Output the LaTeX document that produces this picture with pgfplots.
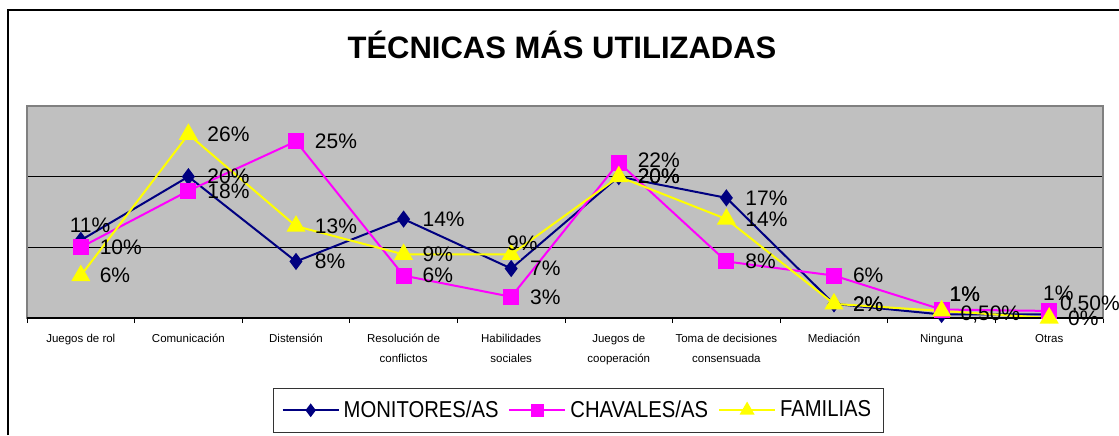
\documentclass[border=0pt]{standalone}
\usepackage{fontspec}
\setmainfont{Liberation Sans}
\usepackage{graphicx}
\usepackage{pgfplots}
\pgfplotsset{compat=1.18}
\definecolor{navyc}{RGB}{0,0,128}
\definecolor{magc}{RGB}{255,0,255}
\definecolor{yelc}{RGB}{255,255,0}
\definecolor{plotgray}{RGB}{192,192,192}
\definecolor{bordgray}{RGB}{128,128,128}
\newcommand{\legtxt}[1]{\scalebox{0.88}[1]{#1}}

\begin{document}
\begin{tikzpicture}
\useasboundingbox (0,0) rectangle (559.5pt,217.5pt);
\draw[black, line width=0.75pt] (4pt,0pt) -- (4pt,212.5pt) -- (559.5pt,212.5pt);
\node[font=\fontsize{15.5}{15.5}\bfseries\selectfont] at (281pt,195pt) {TÉCNICAS MÁS UTILIZADAS};
\begin{axis}[
  at={(13.5pt,58.5pt)}, anchor=south west,
  scale only axis, width=538pt, height=106pt,
  xmin=-0.5, xmax=9.5, ymin=0, ymax=0.3,
  axis background/.style={fill=plotgray},
  axis line style={draw=bordgray, line width=0.75pt},
  ytick={0.1,0.2}, yticklabels={}, ymajorgrids,
  grid style={black, line width=0.4pt},
  ytick style={draw=none},
  xtick={-0.5,0.5,...,9.5},
  x tick label as interval,
  xticklabels={Juegos de rol, Comunicación, Distensión, {Resolución de\\conflictos}, {Habilidades\\sociales}, {Juegos de\\cooperación}, {Toma de decisiones\\consensuada}, Mediación, Ninguna, Otras},
  xtick pos=bottom,
  x tick style={black, line width=0.4pt},
  tick align=outside, major tick length=2.5pt,
  x tick label style={font=\fontsize{5.75}{10}\selectfont, align=center, yshift=-2pt},
  clip=false,
  every axis plot/.append style={line width=1pt},
  point meta=explicit symbolic,
  nodes near coords={\pgfplotspointmeta},
  nodes near coords style={anchor=west, inner sep=0pt, xshift=9pt,
     font=\fontsize{10.5}{10.5}\selectfont, text=black},
  legend style={at={(0.5125,-0.330)}, anchor=north, legend columns=3,
     draw=black!80, line width=0.5pt, font=\fontsize{11.5}{11.5}\selectfont,
     inner xsep=4pt, inner ysep=4pt,
     /tikz/every even column/.append style={column sep=3pt}},
  legend image code/.code={\draw[mark repeat=2,mark phase=2, mark options={scale=0.75}] plot coordinates {(0pt,0pt) (14pt,0pt) (28pt,0pt)};},
]
% MONITORES/AS
\addplot[navyc, mark=diamond*, mark size=3.5pt, mark options={solid, fill=navyc}] coordinates {
 (0,0.11) [] (1,0.20) [20\%] (2,0.08) [8\%] (3,0.14) [14\%] (4,0.07) [7\%]
 (5,0.20) [20\%] (6,0.17) [17\%] (7,0.02) [2\%] (8,0.005) [0,50\%] (9,0.005) []};
\addlegendentry{\legtxt{MONITORES/AS}}
% CHAVALES/AS
\addplot[magc, mark=square*, mark size=3.5pt, mark options={solid, fill=magc}] coordinates {
 (0,0.10) [10\%] (1,0.18) [18\%] (2,0.25) [25\%] (3,0.06) [6\%] (4,0.03) [3\%]
 (5,0.22) [] (6,0.08) [8\%] (7,0.06) [6\%] (8,0.012) [] (9,0.01) []};
\addlegendentry{\legtxt{CHAVALES/AS}}
% FAMILIAS
\addplot[yelc, mark=triangle*, mark size=4.5pt, mark options={solid, fill=yelc}] coordinates {
 (0,0.06) [6\%] (1,0.26) [26\%] (2,0.13) [13\%] (3,0.09) [9\%] (4,0.09) []
 (5,0.20) [20\%] (6,0.14) [14\%] (7,0.02) [2\%] (8,0.01) [] (9,0.00) [0\%]};
\addlegendentry{\legtxt{FAMILIAS}}
% labels placed off the default position
\addplot[draw=none, forget plot, nodes near coords style={xshift=-15pt, yshift=7.5pt}] coordinates {(0,0.11) [11\%]};
\addplot[draw=none, forget plot, nodes near coords style={xshift=-4pt, yshift=5pt}] coordinates {(9,0.005) [0,50\%]};
\addplot[draw=none, forget plot, nodes near coords style={yshift=1pt}] coordinates {(5,0.22) [22\%]};
\addplot[draw=none, forget plot, nodes near coords style={xshift=-5.5pt, yshift=7.5pt}] coordinates {(8,0.012) [1\%] (8,0.012) [1\%]};
\addplot[draw=none, forget plot, nodes near coords style={xshift=-12.5pt, yshift=9pt}] coordinates {(9,0.01) [1\%]};
\addplot[draw=none, forget plot, nodes near coords style={xshift=-11.5pt, yshift=5.5pt}] coordinates {(4,0.09) [9\%]};
\draw[black, line width=0.6pt] (rel axis cs:0,0) -- (rel axis cs:1,0);
\end{axis}
\end{tikzpicture}
\end{document}
